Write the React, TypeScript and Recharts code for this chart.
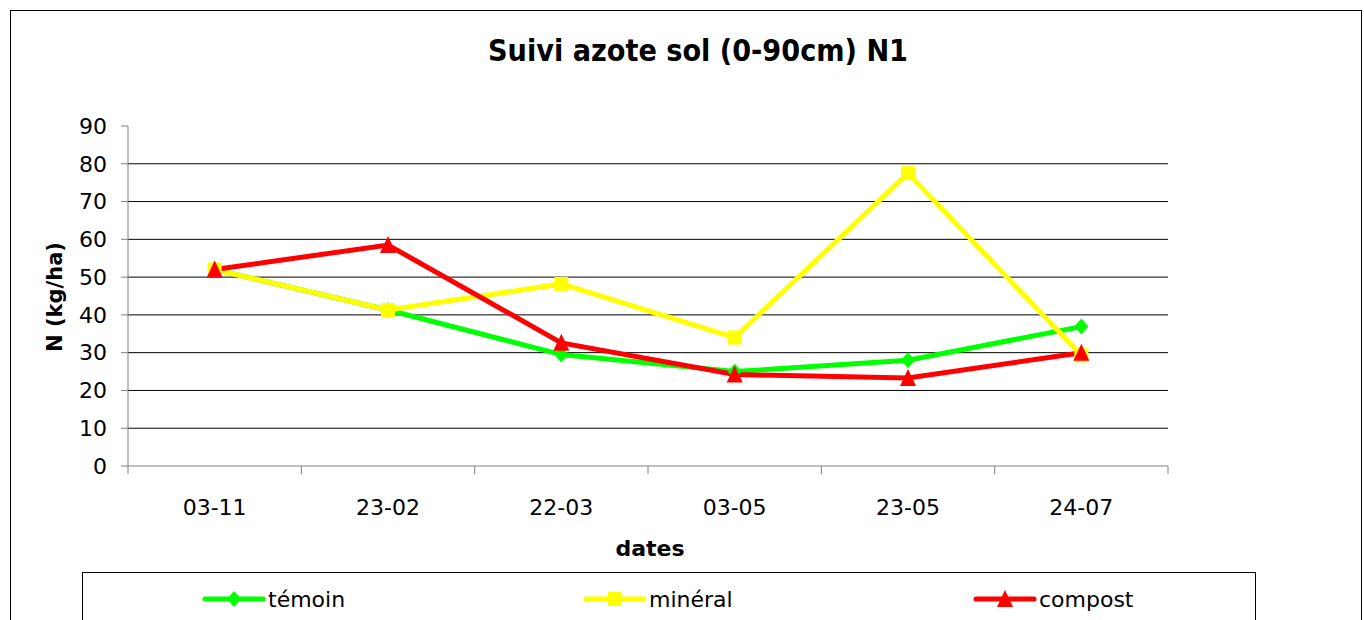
import React from 'react';
import { LineChart, Line, XAxis, YAxis, ReferenceLine } from 'recharts';

const categories = ['03-11', '23-02', '22-03', '03-05', '23-05', '24-07'];
const temoin = [52, 41.3, 29.5, 25, 28, 36.9];
const mineral = [52, 41.3, 48.2, 34, 77.5, 29.3];
const compost = [52, 58.5, 32.6, 24.2, 23.3, 30];
const yTicks = [0, 10, 20, 30, 40, 50, 60, 70, 80, 90];
const gridValues = [10, 20, 30, 40, 50, 60, 70, 80];

const title = 'Suivi azote sol (0-90cm) N1';
const xLabel = 'dates';
const yLabel = 'N (kg/ha)';

const series = [
  { key: 'temoin', name: 'témoin', values: temoin, color: '#00FF00', shape: 'diamond' },
  { key: 'mineral', name: 'minéral', values: mineral, color: '#FFFF00', shape: 'square' },
  { key: 'compost', name: 'compost', values: compost, color: '#FF0000', shape: 'triangle' },
];

const data = categories.map((c, i) => {
  const row: any = { date: c };
  series.forEach((s) => {
    row[s.key] = s.values[i];
  });
  return row;
});

const FONT = '"DejaVu Sans", Verdana, sans-serif';

function Marker({ cx, cy, shape, color }: any) {
  if (cx == null || cy == null) return null;
  if (shape === 'diamond') {
    return <polygon points={`${cx},${cy - 8} ${cx + 7},${cy} ${cx},${cy + 8} ${cx - 7},${cy}`} fill={color} />;
  }
  if (shape === 'square') {
    return <rect x={cx - 7} y={cy - 7} width={14} height={14} fill={color} />;
  }
  return <polygon points={`${cx},${cy - 9} ${cx + 8},${cy + 8} ${cx - 8},${cy + 8}`} fill={color} />;
}

function XTick(props: any) {
  const { x, y, payload, index, visibleTicksCount, width } = props;
  let off = payload && payload.offset;
  if (!off) off = width && visibleTicksCount ? width / visibleTicksCount / 2 : 0;
  const last = index === (visibleTicksCount ?? categories.length) - 1;
  return (
    <g>
      <line x1={x - off} x2={x - off} y1={y} y2={y + 8} stroke="#808080" strokeWidth={1} />
      {last && <line x1={x + off} x2={x + off} y1={y} y2={y + 8} stroke="#808080" strokeWidth={1} />}
      <text x={x} y={y + 49} textAnchor="middle" fontSize={22} fontFamily={FONT} fill="#000">
        {payload.value}
      </text>
    </g>
  );
}

export default function App() {
  return (
    <div style={{ position: 'absolute', left: 0, top: 0, width: 1364, height: 620, overflow: 'hidden', background: '#fff' }}>
      <div style={{ position: 'absolute', left: 10, top: 10, width: 1352, height: 660, border: '1px solid #000', boxSizing: 'border-box' }} />
      <div style={{ position: 'absolute', left: 0, top: 0 }}>
        <LineChart width={1364} height={620} data={data} margin={{ top: 126, right: 196, left: 68, bottom: 114 }}>
          <XAxis
            dataKey="date"
            scale="band"
            stroke="#808080"
            tickLine={false}
            tickSize={0}
            tickMargin={0}
            height={40}
            tick={<XTick />}
            interval={0}
          />
          <YAxis
            domain={[0, 90]}
            ticks={yTicks}
            width={60}
            stroke="#808080"
            tickSize={7}
            tickMargin={14}
            tick={{ fill: '#000', fontSize: 22, fontFamily: FONT }}
            interval={0}
          />
          {gridValues.map((v) => (
            <ReferenceLine key={v} y={v} stroke="#000" strokeWidth={1} ifOverflow="extendDomain" />
          ))}
          {series.map((s) => (
            <Line
              key={s.key}
              dataKey={s.key}
              name={s.name}
              stroke={s.color}
              strokeWidth={5}
              isAnimationActive={false}
              activeDot={false}
              dot={(p: any) => <Marker key={`${s.key}-${p.index}`} cx={p.cx} cy={p.cy} shape={s.shape} color={s.color} />}
            />
          ))}
        </LineChart>
      </div>
      <svg width={1364} height={620} style={{ position: 'absolute', left: 0, top: 0, pointerEvents: 'none' }}>
        <text
          x={698}
          y={61}
          textAnchor="middle"
          fontSize={30}
          fontWeight="bold"
          fontFamily={FONT}
          fill="#000"
          textLength={420}
          lengthAdjust="spacingAndGlyphs"
        >
          {title}
        </text>
        <text x={650} y={556} textAnchor="middle" fontSize={22} fontWeight="bold" fontFamily={FONT} fill="#000">
          {xLabel}
        </text>
        <text
          x={0}
          y={0}
          transform="translate(62,297) rotate(-90)"
          textAnchor="middle"
          fontSize={21}
          fontWeight="bold"
          fontFamily={FONT}
          fill="#000"
        >
          {yLabel}
        </text>
      </svg>
      <div
        style={{
          position: 'absolute',
          left: 82,
          top: 572,
          width: 1174,
          height: 80,
          border: '1px solid #000',
          boxSizing: 'border-box',
          background: '#fff',
        }}
      />
      <svg width={1364} height={620} style={{ position: 'absolute', left: 0, top: 0, pointerEvents: 'none' }}>
        {series.map((s, i) => {
          const starts = [205, 586, 976];
          const lx = starts[i];
          const cy = 599;
          return (
            <g key={s.key}>
              <line x1={lx} x2={lx + 58} y1={cy} y2={cy} stroke={s.color} strokeWidth={5} strokeLinecap="round" />
              <Marker cx={lx + 29} cy={cy} shape={s.shape} color={s.color} />
              <text x={lx + 63} y={cy + 8} fontSize={22} fontFamily={FONT} fill="#000">
                {s.name}
              </text>
            </g>
          );
        })}
      </svg>
    </div>
  );
}
